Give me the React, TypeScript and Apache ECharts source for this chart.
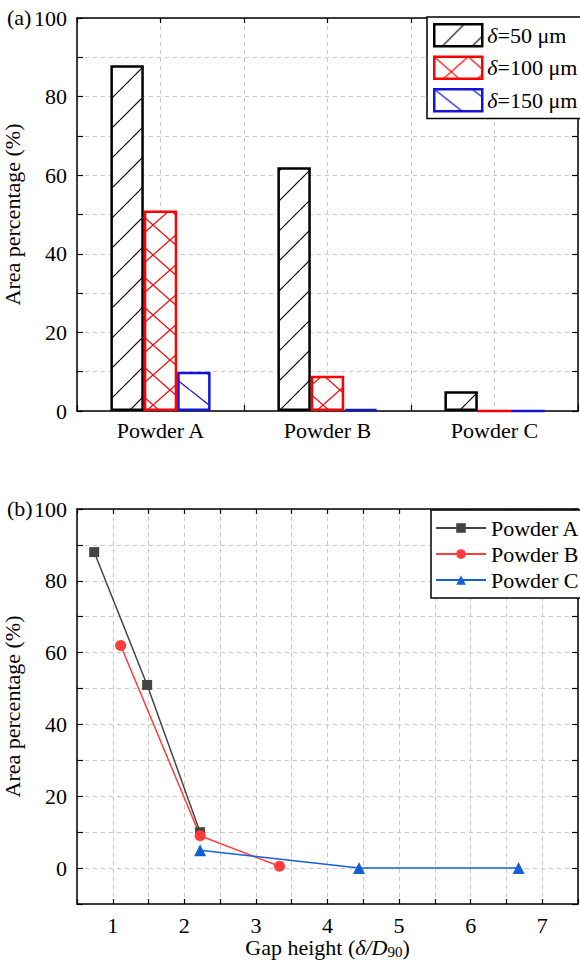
import React, { useEffect, useRef } from "react";
import * as echarts from "echarts";

// Powders and gap settings
const powders = ["Powder A", "Powder B", "Powder C"];
const gapLabels = ["δ=50 μm", "δ=100 μm", "δ=150 μm"];

// Area percentage (%) per powder (A, B, C) for each gap
const area50 = [88, 62, 5];
const area100 = [51, 9, 0];
const area150 = [10, 0.5, 0];

// Normalised gap height δ/D90 for the 50, 100 and 150 μm gaps
const gapRatioA = [0.74, 1.48, 2.22];
const gapRatioB = [1.11, 2.22, 3.33];
const gapRatioC = [2.22, 4.44, 6.67];

const FONT = "Liberation Serif";
const FS = 22;
const DASH = { type: [4, 4] as number[], color: "#c8c8c8", width: 1 };

function makeTile(w: number, h: number, color: string, dirs: string[], lw: number) {
  const c = document.createElement("canvas");
  c.width = w;
  c.height = h;
  const ctx = c.getContext("2d")!;
  ctx.fillStyle = "#fff";
  ctx.fillRect(0, 0, w, h);
  ctx.strokeStyle = color;
  ctx.lineWidth = lw;
  ctx.beginPath();
  for (const d of dirs) {
    for (const k of [-1, 0, 1]) {
      if (d === "/") {
        ctx.moveTo(k * w, h);
        ctx.lineTo(k * w + w, 0);
      } else {
        ctx.moveTo(k * w, 0);
        ctx.lineTo(k * w + w, h);
      }
    }
  }
  ctx.stroke();
  return c;
}

export default function App() {
  const ref = useRef<HTMLDivElement>(null);

  useEffect(() => {
    if (!ref.current) return;
    const chart = echarts.init(ref.current, undefined, { renderer: "svg" });

    const gapColors = ["#000000", "#ff0000", "#1414d6"];
    const tiles = [
      { image: makeTile(30, 30, "#000", ["/"], 1.2), repeat: "repeat", x: 110, y: 411 },
      { image: makeTile(34, 30, "#ff0000", ["/", "\\"], 1.3), repeat: "repeat", x: 143.8, y: 411, scaleX: 33.4 / 34 },
      { image: makeTile(38, 30, "#1414d6", ["\\"], 1.3), repeat: "repeat", x: 177.2, y: 411 },
    ];
    const barValues = [area50, area100, area150];

    const byPowder = (i: number) => [area50[i], area100[i], area150[i]];
    const ratios = [gapRatioA, gapRatioB, gapRatioC];
    const lineColors = ["#444444", "#ff3b3b", "#1560d4"];
    const symbols = ["rect", "circle", "triangle"];
    const symbolSizes = [10, 11, 12];

    const pctAxisLabel = {
      fontFamily: FONT,
      fontSize: FS,
      color: "#000",
      margin: 10,
      formatter: (v: number) => (v >= 0 && Math.round(v) % 20 === 0 ? String(Math.round(v)) : ""),
    };
    const axisLine = { show: true, onZero: false, lineStyle: { color: "#000", width: 1.5 } };
    const tickIn = { show: true, inside: true, length: 6, lineStyle: { color: "#000", width: 1.2 } };

    const option: any = {
      animation: false,
      textStyle: { fontFamily: FONT, color: "#000" },
      grid: [
        { left: 77, top: 18, width: 501, height: 393, containLabel: false, outerBoundsMode: "none" },
        { left: 77, top: 509, width: 501, height: 395, containLabel: false, outerBoundsMode: "none" },
      ],
      xAxis: [
        {
          type: "category",
          gridIndex: 0,
          data: powders,
          position: "bottom",
          axisLine,
          axisTick: tickIn,
          axisLabel: { fontFamily: FONT, fontSize: FS, color: "#000", margin: 8 },
          splitLine: { show: false },
        },
        {
          type: "value",
          gridIndex: 0,
          position: "top",
          min: 0,
          max: 3,
          interval: 0.5,
          axisLine,
          axisTick: { ...tickIn, length: 5 },
          axisLabel: { show: false },
          splitLine: { show: true, lineStyle: DASH },
        },
        {
          type: "value",
          gridIndex: 1,
          position: "bottom",
          min: 0.5,
          max: 7.5,
          interval: 0.5,
          axisLine,
          axisTick: { ...tickIn, length: 5 },
          axisLabel: {
            fontFamily: FONT,
            fontSize: FS,
            color: "#000",
            margin: 10,
            formatter: (v: number) => (Math.abs(v - Math.round(v)) < 1e-6 ? String(Math.round(v)) : ""),
          },
          splitLine: { show: true, lineStyle: DASH },
          name: "{n|Gap height (}{i|δ/D}{s|90}{n|)}",
          nameLocation: "middle",
          nameGap: 28,
          nameTextStyle: {
            rich: {
              n: { fontFamily: FONT, fontSize: FS, color: "#000" },
              i: { fontFamily: FONT, fontSize: FS, color: "#000", fontStyle: "italic" },
              s: { fontFamily: FONT, fontSize: 15, color: "#000", padding: [9, 0, 0, 0] },
            },
          },
        },
        {
          type: "value",
          gridIndex: 1,
          position: "top",
          min: 0.5,
          max: 7.5,
          interval: 0.5,
          axisLine,
          axisTick: { ...tickIn, length: 5 },
          axisLabel: { show: false },
          splitLine: { show: false },
        },
      ],
      yAxis: [
        {
          type: "value",
          gridIndex: 0,
          position: "left",
          min: 0,
          max: 100,
          interval: 10,
          axisLine,
          axisTick: tickIn,
          axisLabel: pctAxisLabel,
          splitLine: { show: true, lineStyle: DASH },
          name: "Area percentage (%)",
          nameLocation: "middle",
          nameGap: 47,
          nameTextStyle: { fontFamily: FONT, fontSize: FS, color: "#000" },
        },
        {
          type: "value",
          gridIndex: 0,
          position: "right",
          min: 0,
          max: 100,
          interval: 10,
          axisLine,
          axisTick: tickIn,
          axisLabel: { show: false },
          splitLine: { show: false },
        },
        {
          type: "value",
          gridIndex: 1,
          position: "left",
          min: -10,
          max: 100,
          interval: 10,
          axisLine,
          axisTick: tickIn,
          axisLabel: pctAxisLabel,
          splitLine: { show: true, lineStyle: DASH },
          name: "Area percentage (%)",
          nameLocation: "middle",
          nameGap: 47,
          nameTextStyle: { fontFamily: FONT, fontSize: FS, color: "#000" },
        },
        {
          type: "value",
          gridIndex: 1,
          position: "right",
          min: -10,
          max: 100,
          interval: 10,
          axisLine,
          axisTick: tickIn,
          axisLabel: { show: false },
          splitLine: { show: false },
        },
      ],
      legend: [
        {
          data: gapLabels,
          orient: "vertical",
          left: 427,
          top: 17,
          padding: [6, 4, 6, 6],
          itemGap: 8,
          itemWidth: 48,
          itemHeight: 22,
          icon: "rect",
          borderColor: "#000",
          borderWidth: 1.5,
          backgroundColor: "#fff",
          itemStyle: { borderWidth: 2.5 },
          formatter: (name: string) => "{i|δ}{t|" + name.slice(1) + "}",
          textStyle: {
            rich: {
              i: { fontFamily: FONT, fontSize: FS, lineHeight: 22, color: "#000", fontStyle: "italic" },
              t: { fontFamily: FONT, fontSize: FS, lineHeight: 22, color: "#000" },
            },
          },
        },
        {
          data: powders,
          orient: "vertical",
          left: 431,
          top: 510,
          padding: [7, 4, 7, 4],
          itemGap: 4,
          itemWidth: 50,
          itemHeight: 12,
          borderColor: "#000",
          borderWidth: 1.5,
          backgroundColor: "#fff",
          textStyle: { fontFamily: FONT, fontSize: FS, lineHeight: 22, color: "#000" },
        },
      ],
      series: [
        ...barValues.map((vals, g) => ({
          name: gapLabels[g],
          type: "bar",
          xAxisIndex: 0,
          yAxisIndex: 0,
          data: vals,
          barWidth: "20%",
          barGap: "0%",
          itemStyle: { color: tiles[g], borderColor: gapColors[g], borderWidth: 2.5 },
        })),
        ...powders.map((p, i) => ({
          name: p,
          type: "line",
          xAxisIndex: 2,
          yAxisIndex: 2,
          data: ratios[i].map((x, k) => [x, byPowder(i)[k]]),
          symbol: symbols[i],
          symbolSize: symbolSizes[i],
          color: lineColors[i],
          itemStyle: { color: lineColors[i] },
          lineStyle: { color: lineColors[i], width: 1.5 },
        })),
      ],
      graphic: [
        { type: "text", left: 7, top: 6, style: { text: "(a)", font: `${FS}px "${FONT}"`, fill: "#000" } },
        { type: "text", left: 7, top: 497, style: { text: "(b)", font: `${FS}px "${FONT}"`, fill: "#000" } },
      ],
    };

    chart.setOption(option);
    return () => chart.dispose();
  }, []);

  return <div ref={ref} style={{ position: "absolute", left: 0, top: 0, width: 580, height: 960 }} />;
}
